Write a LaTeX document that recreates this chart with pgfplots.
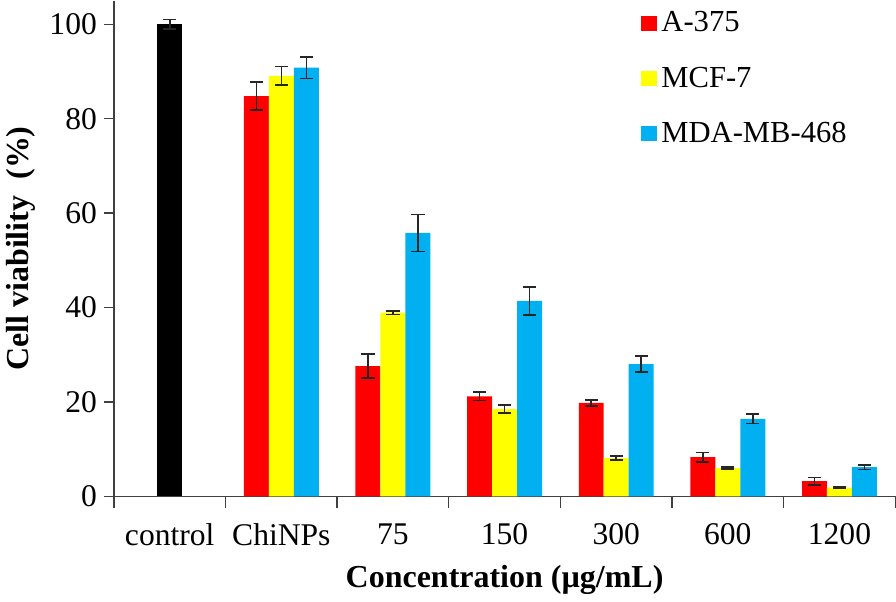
\documentclass[border=0pt]{standalone}
\usepackage{fontspec}
\setmainfont{Liberation Serif}
\usepackage{pgfplots}
\pgfplotsset{compat=1.18}
\definecolor{cred}{RGB}{255,0,0}
\definecolor{cyel}{RGB}{255,255,0}
\definecolor{cblue}{RGB}{0,176,240}
\pgfplotsset{
  myerr/.style={error bars/.cd, y dir=both, y explicit,
    error bar style={line width=0.8pt, black!85},
    error mark options={rotate=90, mark size=3.3pt, line width=0.8pt, black!85}},
}
\begin{document}
\begin{tikzpicture}
\begin{axis}[
  scale only axis, width=391pt, height=248pt,
  xmin=-0.5, xmax=6.5, ymin=0, ymax=105,
  axis x line=bottom, axis y line=left,
  axis line style={-, line width=0.7pt, black!75},
  ybar, bar width=12.5pt,
  xtick={0,...,6}, xticklabels={control,ChiNPs,75,150,300,600,1200},
  minor xtick={-0.5,0.5,...,6.5},
  major x tick style={draw=none},
  minor tick style={line width=0.7pt, black!75},
  major tick style={line width=0.7pt, black!75},
  minor tick length=6pt, major tick length=5pt,
  tick align=outside,
  ytick={0,20,...,100},
  /pgf/number format/assume math mode=true,
  tick label style={font=\fontsize{15.8}{18}\selectfont},
  xticklabel style={yshift=-5pt},
  xlabel={\textbf{Concentration (µg/mL)}},
  ylabel={\textbf{Cell viability\ \ (\%)}},
  label style={font=\fontsize{16}{18}\selectfont},
  xlabel style={yshift=-3pt},
  legend style={draw=none, fill=none, at={(0.667,0.995)}, anchor=north west,
    font=\fontsize{15.3}{17}\selectfont, row sep=12pt, legend cell align=left},
  legend image code/.code={\fill[#1] (0pt,-3.8pt) rectangle (8pt,3.8pt);},
]
\addplot[fill=black, draw=none, bar shift=0pt, forget plot, myerr]
  coordinates {(0,100) +- (0,1)};
\addplot[fill=cred, draw=none, bar shift=-12.5pt, myerr]
  coordinates {(1,84.8) +- (0,3.0) (2,27.6) +- (0,2.5) (3,21.2) +- (0,0.9)
               (4,19.8) +- (0,0.6) (5,8.3) +- (0,1.0) (6,3.2) +- (0,0.8)};
\addplot[fill=cyel, draw=none, bar shift=0pt, myerr]
  coordinates {(1,89.1) +- (0,2.0) (2,38.9) +- (0,0.4) (3,18.5) +- (0,0.8)
               (4,8.1) +- (0,0.4) (5,6.0) +- (0,0.2) (6,1.85) +- (0,0.15)};
\addplot[fill=cblue, draw=none, bar shift=12.5pt, myerr]
  coordinates {(1,90.8) +- (0,2.3) (2,55.8) +- (0,3.9) (3,41.4) +- (0,3.0)
               (4,28.0) +- (0,1.7) (5,16.4) +- (0,1.0) (6,6.2) +- (0,0.5)};
\legend{A-375,MCF-7,MDA-MB-468}
\end{axis}
\end{tikzpicture}
\end{document}
